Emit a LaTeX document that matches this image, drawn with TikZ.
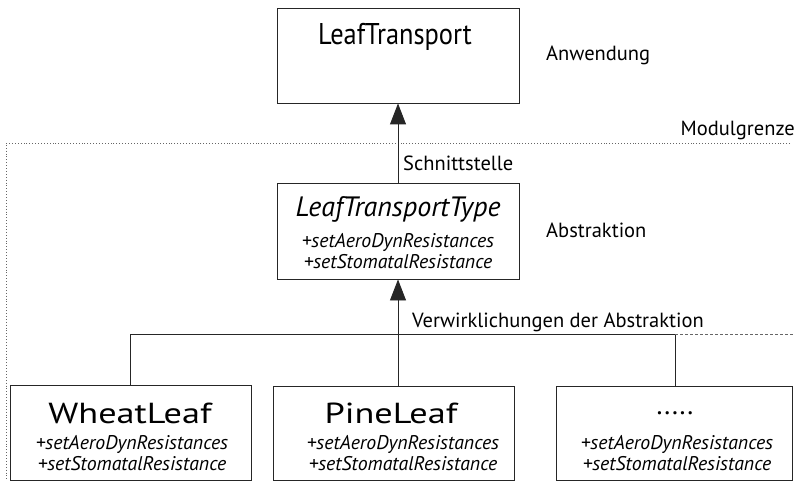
\documentclass[tikz,border=0pt]{standalone}
\usepackage{fontspec}
\setmainfont{PT Sans}
\newfontfamily\topfont[FakeStretch=0.88]{PT Sans}
\newfontfamily\botfont[FakeStretch=1.25]{PT Sans}
\usetikzlibrary{arrows.meta}
\begin{document}
\begin{tikzpicture}[x=1pt,y=-1pt,
  box/.style={draw=black!85, line width=0.9pt, inner sep=0pt},
  bigtitle/.style={font=\topfont\fontsize{30}{34}\selectfont, inner sep=0pt},
  title/.style={font=\botfont\fontsize{29}{34}\selectfont, inner sep=0pt},
  ittitle/.style={font=\itshape\fontsize{28}{32}\selectfont, inner sep=0pt},
  meth/.style={font=\itshape\fontsize{19.8}{21}\selectfont, align=center, inner sep=0pt},
  lbl/.style={font=\fontsize{20.5}{24}\selectfont, inner sep=0pt},
  conn/.style={line width=0.9pt, black!85},
  tip/.style={-{Triangle[length=21pt,width=16pt]}},
  border/.style={black!60, line width=0.9pt, dotted}
]
\useasboundingbox (0,0) rectangle (795,481);
% boxes
\node[box, minimum width=242pt, minimum height=95pt] (top) at (398,55.5) {};
\node[box, minimum width=242pt, minimum height=96pt] (mid) at (398,231) {};
\node[box, minimum width=241pt, minimum height=95pt] (wheat) at (130.5,432.5) {};
\node[box, minimum width=241pt, minimum height=94pt] (pine) at (393.5,433) {};
\node[box, minimum width=236pt, minimum height=94pt] (etc) at (674,433) {};
% texts
\node[bigtitle] (tt) at (395,37) {LeafTransport};
\node[ittitle] (mt) at (398,209) {LeafTransportType};
\node[meth] (mm) at (398,251.5) {+setAeroDynResistances\\+setStomatalResistance};
\node[title] (wt) at (130,413) {WheatLeaf};
\node[meth] (wm) at (132,453.5) {+setAeroDynResistances\\+setStomatalResistance};
\node[title] (pt) at (391,413) {PineLeaf};
\node[meth] (pm) at (403,453.5) {+setAeroDynResistances\\+setStomatalResistance};
\node[font=\fontsize{27.5}{30}\selectfont, inner sep=0pt] (et) at (675,413) {.....};
\node[meth] (em) at (677,453.5) {+setAeroDynResistances\\+setStomatalResistance};
% labels
\node[lbl, anchor=west] (anw) at (546,55) {Anwendung};
\node[lbl, anchor=east] (mod) at (795,130) {Modulgrenze};
\node[lbl, anchor=west] (sch) at (403,163) {Schnittstelle};
\node[lbl, anchor=west] (abs) at (546,230) {Abstraktion};
\node[lbl, anchor=west] (ver) at (412,322) {Verwirklichungen der Abstraktion};
% module border
\coordinate (b1) at (790,143);
\coordinate (b2) at (6,143);
\coordinate (b3) at (6,481);
\draw[border] (b1) -- (b2) -- (b3);
% connectors
\draw[conn, tip] (mid.north) -- (top.south);
\coordinate (j) at (398,334);
\coordinate (jl) at (130,334);
\coordinate (jr) at (675,334);
\coordinate (jend) at (795,334);
\draw[conn, tip] (pine.north -| j) -- (mid.south);
\draw[conn] (wheat.north -| jl) -- (jl) -- (jr) -- (etc.north -| jr);
\draw[black!60, line width=0.8pt, dash pattern=on 3pt off 2pt] (jr) -- (jend);
\end{tikzpicture}
\end{document}
